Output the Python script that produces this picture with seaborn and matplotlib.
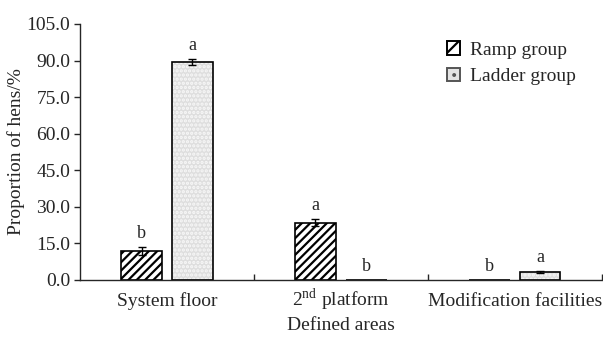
import matplotlib
matplotlib.use("Agg")
import matplotlib.pyplot as plt
import matplotlib.patches as mpatches
import seaborn as sns
import pandas as pd
import numpy as np

areas = ["System floor", "2$^{\\mathrm{nd}}$ platform", "Modification facilities"]
groups = ["Ramp group", "Ladder group"]
ramp_vals = [12.0, 23.5, 0.2]
ramp_err = [1.6, 1.5, 0.0]
ladder_vals = [89.5, 0.2, 3.3]
ladder_err = [1.2, 0.0, 0.5]
ramp_letters = ["b", "a", "b"]
ladder_letters = ["a", "b", "a"]
y_ticks = [0, 15, 30, 45, 60, 75, 90, 105]

df = pd.DataFrame({
    "area": areas * 2,
    "group": [groups[0]] * 3 + [groups[1]] * 3,
    "value": ramp_vals + ladder_vals,
})

sns.set_style("ticks")
plt.rcParams["font.family"] = ["Liberation Serif", "DejaVu Serif"]
plt.rcParams["mathtext.fontset"] = "custom"
plt.rcParams["mathtext.rm"] = "Liberation Serif"
plt.rcParams["hatch.linewidth"] = 1.6

FS = 14
LADDER_FILL = "#dedede"

fig = plt.figure(figsize=(6.03, 3.38), dpi=100)
ax = fig.add_axes([0.1327, 0.1716, 0.865, 0.7574])

sns.barplot(data=df, x="area", y="value", hue="group", order=areas,
            hue_order=groups, width=0.584, gap=0.195, errorbar=None,
            palette=["white", LADDER_FILL], edgecolor="black", linewidth=1.0,
            legend=False, ax=ax)

bars = [p for p in ax.patches if isinstance(p, mpatches.Rectangle)]
ramp_bars = bars[:3]
ladder_bars = bars[3:6]

for p in ramp_bars:
    p.set_hatch("////")
    p.set_edgecolor("black")
    p.set_linewidth(1.2)

# light dotted texture, then a crisp black outline on top
for p in ladder_bars:
    p.set_hatch("....")
    p.set_edgecolor("#f8f8f8")
    p.set_linewidth(0)
    outline = mpatches.Rectangle(p.get_xy(), p.get_width(), p.get_height(),
                                 fill=False, edgecolor="black", linewidth=1.2,
                                 zorder=p.get_zorder() + 0.1)
    ax.add_patch(outline)

def annotate(bar_list, vals, errs, letters):
    for p, v, e, t in zip(bar_list, vals, errs, letters):
        xc = p.get_x() + p.get_width() / 2
        if e > 0:
            ax.errorbar(xc, v, yerr=e, fmt="none", ecolor="black",
                        elinewidth=1.0, capsize=3, capthick=1.0, zorder=5)
        ax.text(xc, v + e + 2.0, t, ha="center", va="bottom", fontsize=FS - 1)

annotate(ramp_bars, ramp_vals, ramp_err, ramp_letters)
annotate(ladder_bars, ladder_vals, ladder_err, ladder_letters)

ax.set_xlim(-0.5, 2.5)
ax.set_ylim(0, 105)
ax.set_yticks(y_ticks)
ax.set_yticklabels([f"{v:.1f}" for v in y_ticks])
ax.set_xticks([0.5, 1.5, 2.5], minor=True)
ax.tick_params(axis="x", which="major", length=0, labelsize=FS, pad=18.5)
ax.tick_params(axis="x", which="minor", direction="in", length=4, width=1)
ax.tick_params(axis="y", direction="out", length=4, width=1, labelsize=FS, pad=3)
for lbl in ax.get_xticklabels():
    lbl.set_verticalalignment("baseline")
ax.set_xlabel("Defined areas", fontsize=FS)
ax.xaxis.set_label_coords(0.5, -0.145)
ax.set_ylabel("Proportion of hens/%", fontsize=FS)
ax.yaxis.set_label_coords(-0.105, 0.5)
for s in ["top", "right"]:
    ax.spines[s].set_visible(False)
for s in ["left", "bottom"]:
    ax.spines[s].set_linewidth(1.0)

handles = [
    mpatches.Patch(facecolor="white", edgecolor="black", hatch="//", linewidth=1.4,
                   label=groups[0]),
    mpatches.Patch(facecolor="#e4e4e4", edgecolor="#555555", hatch="..", linewidth=1.4,
                   label=groups[1]),
]
fig.legend(handles=handles, loc="upper left", bbox_to_anchor=(0.712, 0.93),
           frameon=False, fontsize=FS, handlelength=0.7, handleheight=0.7,
           handletextpad=0.5, labelspacing=0.45)

fig.savefig("out.png", dpi=100)
